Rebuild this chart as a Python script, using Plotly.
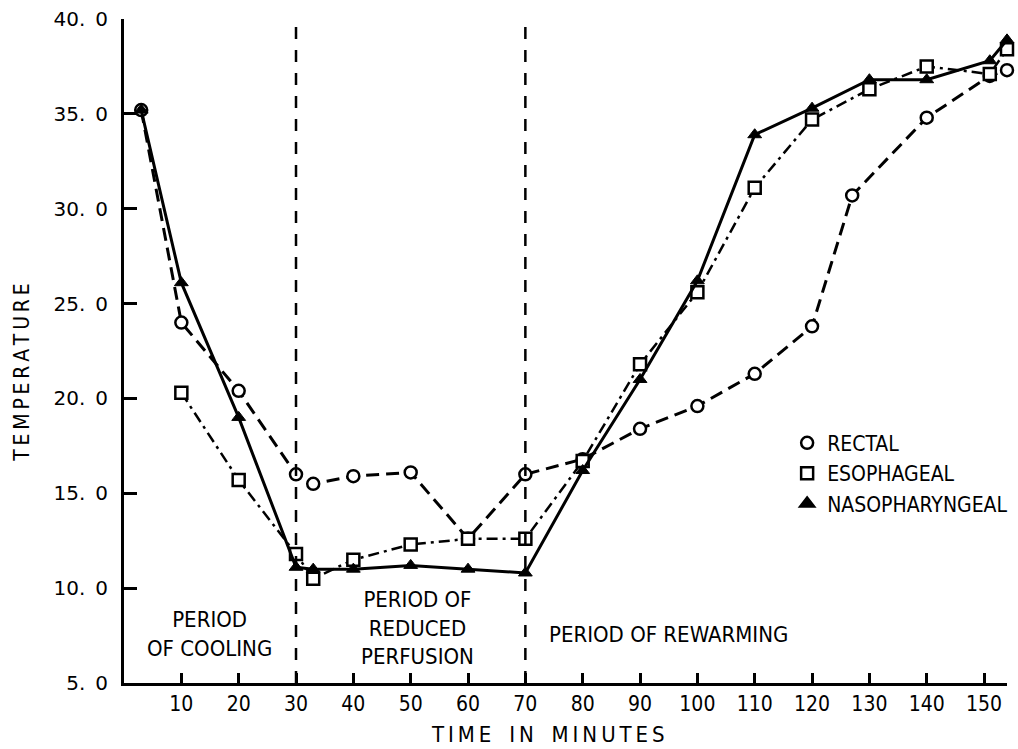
import plotly.graph_objects as go

# ---- data ----
rectal_t = [3, 10, 20, 30, 33, 40, 50, 60, 70, 80, 90, 100, 110, 120, 127, 140, 151, 154]
rectal_v = [35.2, 24.0, 20.4, 16.0, 15.5, 15.9, 16.1, 12.6, 16.0, 16.8, 18.4, 19.6, 21.3, 23.8, 30.7, 34.8, 37.0, 37.3]

esoph_t = [10, 20, 30, 33, 40, 50, 60, 70, 80, 90, 100, 110, 120, 130, 140, 151, 154]
esoph_v = [20.3, 15.7, 11.8, 10.5, 11.5, 12.3, 12.6, 12.6, 16.7, 21.8, 25.6, 31.1, 34.7, 36.3, 37.5, 37.1, 38.4]

naso_t = [3, 10, 20, 30, 33, 40, 50, 60, 70, 80, 90, 100, 110, 120, 130, 140, 151, 154]
naso_v = [35.2, 26.1, 19.0, 11.1, 11.0, 11.0, 11.2, 11.0, 10.8, 16.2, 21.0, 26.2, 33.9, 35.3, 36.8, 36.8, 37.8, 38.9]

period_bounds = [30, 70]

x_ticks = [10, 20, 30, 40, 50, 60, 70, 80, 90, 100, 110, 120, 130, 140, 150]
y_ticks = [5, 10, 15, 20, 25, 30, 35, 40]
y_ticktext = ["5.\u20020", "10.\u20020", "15.\u20020", "20.\u20020", "25.\u20020", "30.\u20020", "35.\u20020", "40.\u20020"]

FONT = "DejaVu Sans Condensed, DejaVu Sans, sans-serif"
TICKFONT = "DejaVu Sans, sans-serif"

fig = go.Figure()

fig.add_trace(go.Scatter(
    x=rectal_t, y=rectal_v, mode="lines+markers", showlegend=False,
    line=dict(color="black", width=3, dash="13px,7px"),
    marker=dict(symbol="circle", size=12, color="white", line=dict(color="black", width=2.5)),
    cliponaxis=False,
))
fig.add_trace(go.Scatter(
    x=esoph_t, y=esoph_v, mode="lines+markers", showlegend=False,
    line=dict(color="black", width=2.5, dash="11px,5px,3px,5px"),
    marker=dict(symbol="square", size=12, color="white", line=dict(color="black", width=2.5)),
    cliponaxis=False,
))
fig.add_trace(go.Scatter(
    x=naso_t, y=naso_v, mode="lines+markers", showlegend=False,
    line=dict(color="black", width=3),
    marker=dict(symbol="triangle-up", size=12, color="black", line=dict(color="black", width=1)),
    cliponaxis=False,
))

# legend-only entries (markers only, like the reference key)
for name, sym, fill in [("RECTAL", "circle", "white"),
                        ("ESOPHAGEAL", "square", "white"),
                        ("NASOPHARYNGEAL", "triangle-up", "black")]:
    fig.add_trace(go.Scatter(
        x=[None], y=[None], mode="markers", name=name,
        marker=dict(symbol=sym, size=12, color=fill, line=dict(color="black", width=2.5)),
    ))

for xb in period_bounds:
    fig.add_shape(type="line", x0=xb, x1=xb, xref="x", y0=0, y1=1, yref="paper",
                  line=dict(color="black", width=2.5, dash="12px,11px"))

ann_font = dict(family=FONT, size=22, color="black")
fig.add_annotation(x=14.9, y=7.6, xref="x", yref="y", text="PERIOD<br>OF COOLING",
                   showarrow=False, font=ann_font, align="center")
fig.add_annotation(x=51.1, y=7.9, xref="x", yref="y", text="PERIOD OF<br>REDUCED<br>PERFUSION",
                   showarrow=False, font=ann_font, align="center")
fig.add_annotation(x=94.9, y=7.55, xref="x", yref="y", text="PERIOD OF REWARMING",
                   showarrow=False, font=ann_font, align="center")

ts = "\u2009"
fig.add_annotation(x=0.4806, y=-0.077, xref="paper", yref="paper",
                   text=ts.join("TIME IN MINUTES").replace(" ", "\u2002"),
                   showarrow=False, font=dict(family=FONT, size=22, color="black"),
                   xanchor="center", yanchor="middle")
fig.add_annotation(x=-0.115, y=0.468, xref="paper", yref="paper",
                   text=ts.join("TEMPERATURE"), textangle=-90,
                   showarrow=False, font=dict(family=FONT, size=21, color="black"),
                   xanchor="center", yanchor="middle")

fig.update_layout(
    width=1018, height=749,
    margin=dict(l=124, r=5, t=19, b=66),
    paper_bgcolor="white", plot_bgcolor="white",
    font=dict(family=FONT, color="black"),
    legend=dict(x=0.751, y=0.392, xanchor="left", yanchor="top",
                font=dict(family=FONT, size=21, color="black"),
                bgcolor="rgba(0,0,0,0)", itemwidth=30, tracegroupgap=0),
)
fig.update_xaxes(
    range=[0, 154], showgrid=False, zeroline=False, automargin=False,
    showline=True, linecolor="black", linewidth=3,
    ticks="inside", ticklen=10, tickwidth=2.5, tickcolor="black",
    tickvals=x_ticks, tickfont=dict(family=FONT, size=21, color="black"),
)
fig.update_yaxes(
    range=[5, 40], showgrid=False, zeroline=False, automargin=False,
    showline=True, linecolor="black", linewidth=3,
    ticks="inside", ticklen=13, tickwidth=3, tickcolor="black",
    ticklabelstandoff=9,
    tickvals=y_ticks, ticktext=y_ticktext, tickfont=dict(family=TICKFONT, size=20, color="black"),
)

fig.write_html("out.html", config={"displayModeBar": False},
               post_script="document.body.style.margin='0';")
